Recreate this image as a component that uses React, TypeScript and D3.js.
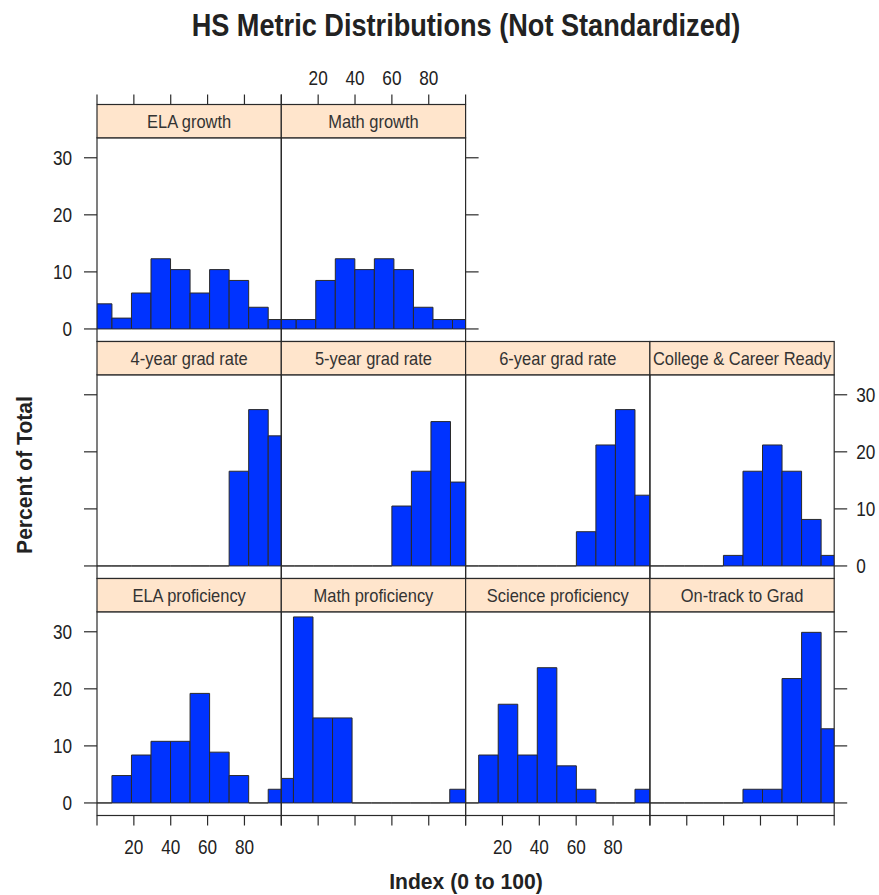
import React from "react";
import * as d3 from "d3";

// Panels of the lattice, listed in reading order (top row first)
const panelNames = [
  "ELA growth",
  "Math growth",
  "4-year grad rate",
  "5-year grad rate",
  "6-year grad rate",
  "College & Career Ready",
  "ELA proficiency",
  "Math proficiency",
  "Science proficiency",
  "On-track to Grad",
];
const panelRow = [0, 0, 1, 1, 1, 1, 2, 2, 2, 2];
const panelCol = [0, 1, 0, 1, 2, 3, 0, 1, 2, 3];

// Histogram breaks: first break per panel, common bin width
const binWidth = 10.6;
const firstBreak = [-2.5, -2.5, -2.5, -3.6, -3.5, -2.5, -2.5, -4.0, -3.5, -2.5];

// Percent of total per bin
const elaGrowth = [4.4, 1.9, 6.3, 12.3, 10.4, 6.3, 10.4, 8.5, 3.8, 1.65];
const mathGrowth = [1.65, 1.65, 8.5, 12.3, 10.4, 12.3, 10.4, 3.8, 1.65, 1.65];
const grad4 = [0, 0, 0, 0, 0, 0, 0, 16.6, 27.4, 22.8];
const grad5 = [0, 0, 0, 0, 0, 0, 10.5, 16.6, 25.3, 14.7];
const grad6 = [0, 0, 0, 0, 0, 0, 6.0, 21.2, 27.4, 12.4];
const collegeReady = [0, 0, 0, 0, 1.85, 16.6, 21.2, 16.6, 8.15, 1.85];
const elaProf = [0, 4.8, 8.4, 10.8, 10.8, 19.2, 8.9, 4.8, 0, 2.4];
const mathProf = [4.3, 32.6, 14.9, 14.9, 0, 0, 0, 0, 0, 2.4];
const scienceProf = [0, 8.4, 17.3, 8.4, 23.7, 6.5, 2.4, 0, 0, 2.4];
const onTrack = [0, 0, 0, 0, 0, 2.4, 2.4, 21.8, 29.9, 13.0];
const panelValues = [
  elaGrowth, mathGrowth, grad4, grad5, grad6, collegeReady,
  elaProf, mathProf, scienceProf, onTrack,
];

const xTicks = [0, 20, 40, 60, 80, 100];
const xTickLabels = ["", "20", "40", "60", "80", ""];
const yTicks = [0, 10, 20, 30];
const xDomain: [number, number] = [0, 100];
const yDomain: [number, number] = [-2.2, 33.5];

const titleText = "HS Metric Distributions (Not Standardized)";
const xTitle = "Index (0 to 100)";
const yTitle = "Percent of Total";

// Layout
const W = 879;
const H = 895;
const gridLeft = 97;
const colW = 184.3;
const gridTop = 104.5;
const stripH = 33.3;
const panelH = 203.7;
const rowH = stripH + panelH;
const tickH = 13; // horizontal tick length (y axes)
const tickV = 10; // vertical tick length (x axes)

const FONT = "'Liberation Sans', Arial, sans-serif";
const INK = "#222";
const LINE = "#2a2a2a";
const BAR = "#0033ff";
const STRIP = "#ffe5cc";

type NTProps = {
  x: number;
  y: number;
  size: number;
  squeeze?: number;
  anchor?: "start" | "middle" | "end";
  bold?: boolean;
  fill?: string;
  rotate?: number;
  children: React.ReactNode;
};

// Condensed text: Liberation Sans compressed horizontally
function NText({ x, y, size, squeeze = 0.86, anchor = "middle", bold = false, fill = INK, rotate = 0, children }: NTProps) {
  return (
    <text
      transform={`translate(${x},${y}) rotate(${rotate}) scale(${squeeze},1)`}
      textAnchor={anchor}
      fontSize={size}
      fontWeight={bold ? "bold" : "normal"}
      fill={fill}
    >
      {children}
    </text>
  );
}

export default function App() {
  const panels = panelNames.map((name, i) => {
    const r = panelRow[i];
    const c = panelCol[i];
    const x0 = gridLeft + c * colW;
    const stripTop = gridTop + r * rowH;
    const pTop = stripTop + stripH;
    const pBottom = pTop + panelH;
    const x = d3.scaleLinear().domain(xDomain).range([x0, x0 + colW]);
    const y = d3.scaleLinear().domain(yDomain).range([pBottom, pTop]);
    const vals = panelValues[i];
    const bars = vals.map((v, k) => {
      const b0 = firstBreak[i] + k * binWidth;
      const b1 = b0 + binWidth;
      const p = d3.path();
      p.moveTo(x(b0), y(0));
      p.lineTo(x(b0), y(v));
      p.lineTo(x(b1), y(v));
      p.lineTo(x(b1), y(0));
      p.closePath();
      return p.toString();
    });
    return { name, i, r, c, x0, stripTop, pTop, pBottom, x, y, bars };
  });

  const rows = [0, 1, 2];
  const rowPanels = (r: number) => panels.filter((p) => p.r === r);

  return (
    <svg width={W} height={H} style={{ display: "block", position: "absolute", left: 0, top: 0 }}
      fontFamily={FONT}>
      <defs>
        {panels.map((p) => (
          <clipPath id={`clip${p.i}`} key={p.i}>
            <rect x={p.x0} y={p.pTop} width={colW} height={panelH} />
          </clipPath>
        ))}
      </defs>
      <rect width={W} height={H} fill="#fff" />

      <NText x={466} y={36} size={30.5} squeeze={0.89} bold>
        {titleText}
      </NText>

      {panels.map((p) => (
        <g key={p.i}>
          <g clipPath={`url(#clip${p.i})`}>
            {p.bars.map((d, k) => (
              <path key={k} d={d} fill={BAR} stroke={LINE} strokeWidth={1} />
            ))}
          </g>
          <rect x={p.x0} y={p.pTop} width={colW} height={panelH} fill="none" stroke={LINE} strokeWidth={1.2} />
          <rect x={p.x0} y={p.stripTop} width={colW} height={stripH} fill={STRIP} stroke={LINE} strokeWidth={1.2} />
          <NText x={p.x0 + colW / 2} y={p.stripTop + stripH / 2 + 6.5} size={18.5} squeeze={0.89} fill="#333">
            {p.name}
          </NText>
        </g>
      ))}

      {/* Left axis: ticks on every row, labels on rows 0 and 2 */}
      {rows.map((r) => {
        const p = rowPanels(r)[0];
        return (
          <g key={`l${r}`}>
            {yTicks.map((t) => (
              <g key={t}>
                <line x1={gridLeft - tickH} x2={gridLeft} y1={p.y(t)} y2={p.y(t)} stroke={LINE} strokeWidth={1.2} />
                {r !== 1 && (
                  <NText x={gridLeft - 25} y={p.y(t) + 7} size={20} anchor="end">
                    {t}
                  </NText>
                )}
              </g>
            ))}
          </g>
        );
      })}

      {/* Right axis: ticks at the rightmost panel of each row, labels on row 1 */}
      {rows.map((r) => {
        const ps = rowPanels(r);
        const p = ps[ps.length - 1];
        const xr = p.x0 + colW;
        return (
          <g key={`r${r}`}>
            {yTicks.map((t) => (
              <g key={t}>
                <line x1={xr} x2={xr + tickH} y1={p.y(t)} y2={p.y(t)} stroke={LINE} strokeWidth={1.2} />
                {r === 1 && (
                  <NText x={xr + 22} y={p.y(t) + 7} size={20} anchor="start">
                    {t}
                  </NText>
                )}
              </g>
            ))}
          </g>
        );
      })}

      {/* Top axis over the first row */}
      {rowPanels(0).map((p) => (
        <g key={`t${p.i}`}>
          {xTicks.map((t, k) => (
            <g key={t}>
              <line x1={p.x(t)} x2={p.x(t)} y1={p.stripTop - tickV} y2={p.stripTop} stroke={LINE} strokeWidth={1.2} />
              {p.c % 2 === 1 && (
                <NText x={p.x(t)} y={85} size={20}>
                  {xTickLabels[k]}
                </NText>
              )}
            </g>
          ))}
        </g>
      ))}

      {/* Bottom axis under the last row */}
      {rowPanels(2).map((p) => (
        <g key={`b${p.i}`}>
          {xTicks.map((t, k) => (
            <g key={t}>
              <line x1={p.x(t)} x2={p.x(t)} y1={p.pBottom} y2={p.pBottom + tickV} stroke={LINE} strokeWidth={1.2} />
              {p.c % 2 === 0 && (
                <NText x={p.x(t)} y={p.pBottom + 38} size={20}>
                  {xTickLabels[k]}
                </NText>
              )}
            </g>
          ))}
        </g>
      ))}

      <NText x={466} y={889} size={22} squeeze={0.96} bold>
        {xTitle}
      </NText>
      <NText x={32} y={475} size={22} squeeze={0.96} bold rotate={-90}>
        {yTitle}
      </NText>
    </svg>
  );
}
